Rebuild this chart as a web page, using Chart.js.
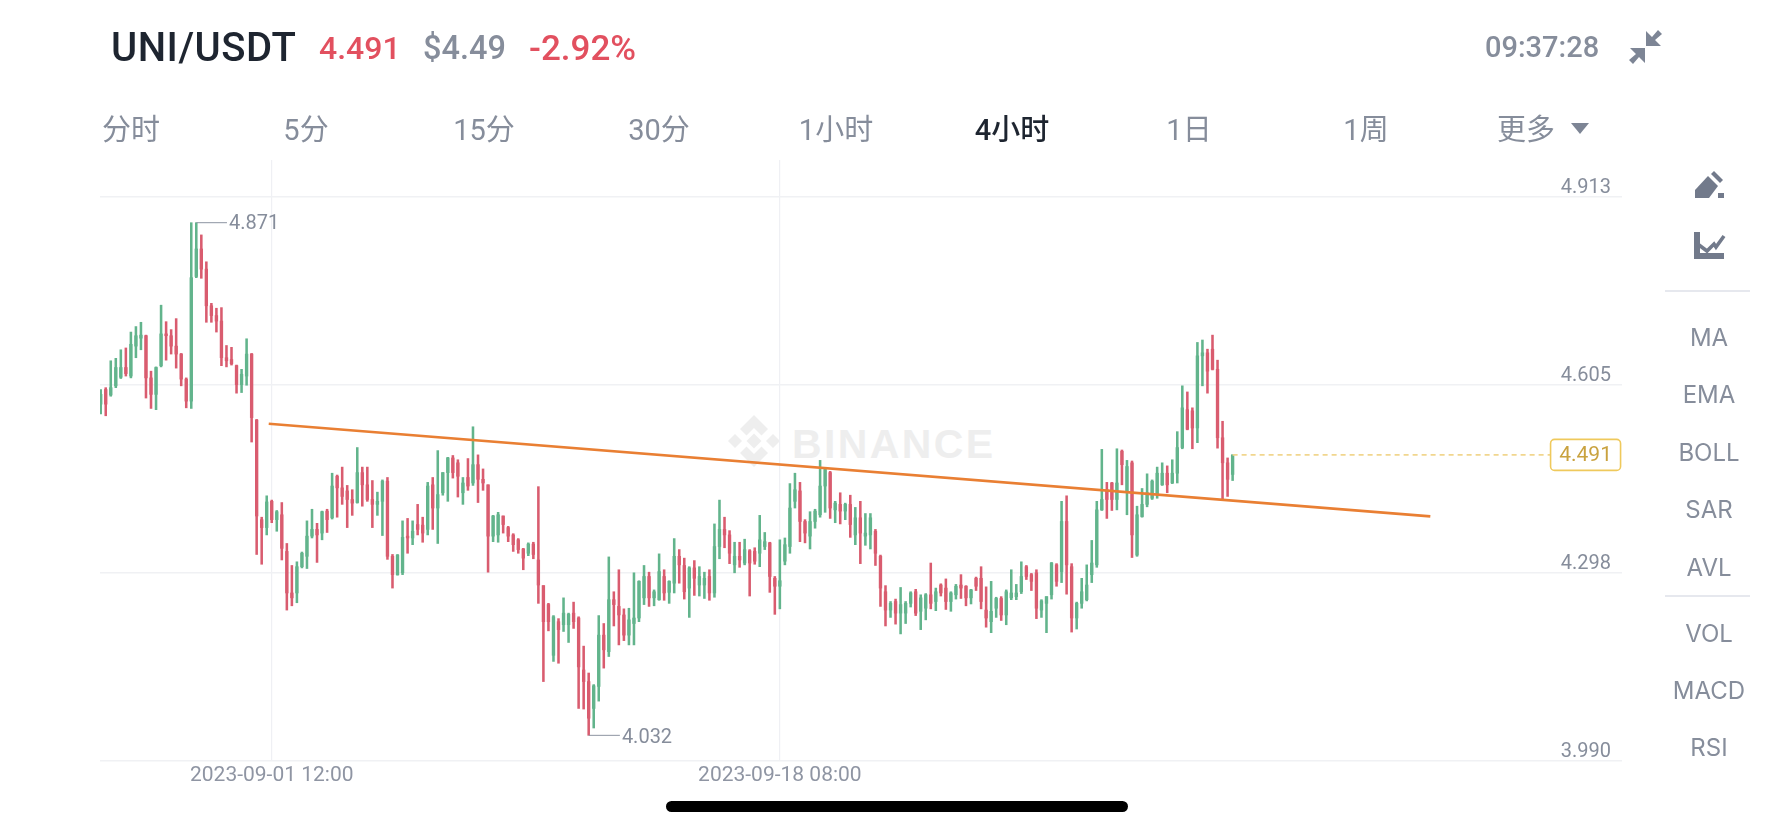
<!DOCTYPE html>
<html>
<head>
<meta charset="utf-8">
<title>UNI/USDT</title>
<script src="https://cdn.jsdelivr.net/npm/chart.js@4"></script>
<style>
html, body { margin: 0; padding: 0; background: #fff; width: 1792px; height: 828px; overflow: hidden; }
body { position: relative; font-family: Roboto, "Noto Sans CJK SC", sans-serif; }
canvas { position: absolute; left: 0; top: 0; }
.t { position: absolute; white-space: nowrap; line-height: 1; }
.tab { font-size: 29px; color: #868d9b; transform: translateX(-50%); top: 116px; font-family: Roboto, "Noto Sans CJK SC", sans-serif; }
.side { font-family: Inter, sans-serif; font-size: 24px; color: #868d9b; left: 1709px; transform: translate(-50%, -50%); }
.sep { position: absolute; left: 1665px; width: 85px; height: 1.5px; background: #e6e8ee; }
#mark { position: absolute; left: 728px; top: 415px; }
#markText { left: 792px; top: 421px; font: 700 41px "Liberation Sans", sans-serif; letter-spacing: 2.4px; color: #eeeeee; }
#pill { position: absolute; left: 666px; top: 801px; width: 462px; height: 11px; border-radius: 6px; background: #000; }
</style>
</head>
<body>
<svg id="mark" width="52" height="52" viewBox="0 0 52 52" fill="#eeeeee">
  <polygon points="26,0 40,14 33.5,20.5 26,13 18.5,20.5 12,14"/>
  <polygon points="26,52 12,38 18.5,31.5 26,39 33.5,31.5 40,38"/>
  <polygon points="26,18.5 33.5,26 26,33.5 18.5,26"/>
  <polygon points="7,19 14,26 7,33 0,26"/>
  <polygon points="45,19 52,26 45,33 38,26"/>
</svg>
<div id="markText" class="t">BINANCE</div>
<canvas id="chart" width="1792" height="828"></canvas>

<div class="t" style="left:111px;top:28px;font-size:40px;font-weight:500;letter-spacing:0.5px;color:#1e2530;">UNI/USDT</div>
<div class="t" style="left:319px;top:32px;font-size:32px;font-weight:500;color:#e2505f;">4.491</div>
<div class="t" style="left:423px;top:32px;font-size:32.5px;font-weight:500;color:#868d9b;">$4.49</div>
<div class="t" style="left:529px;top:31px;font-size:35px;font-weight:500;color:#e2505f;">-2.92%</div>
<div class="t" style="left:1485px;top:33px;font-size:29px;font-weight:500;color:#868d9b;">09:37:28</div>
<svg style="position:absolute;left:1628px;top:29px" width="36" height="36" viewBox="0 0 36 36" fill="#7d8595">
  <polygon points="18,2 18,17 33,17 27,11 34,5 30,1 24,8"/>
  <polygon points="17,34 17,19 2,19 8,25 1,31 5,35 11,28"/>
</svg>

<div class="t tab" style="left:131px">分时</div>
<div class="t tab" style="left:306px">5分</div>
<div class="t tab" style="left:484px">15分</div>
<div class="t tab" style="left:659px">30分</div>
<div class="t tab" style="left:836px">1小时</div>
<div class="t tab" style="left:1012px;color:#1e2530;font-weight:500">4小时</div>
<div class="t tab" style="left:1189px">1日</div>
<div class="t tab" style="left:1366px">1周</div>
<div class="t tab" style="left:1526px">更多</div>
<svg style="position:absolute;left:1571px;top:123px" width="18" height="12" viewBox="0 0 18 12" fill="#7d8595"><polygon points="0,0 18,0 9,11"/></svg>

<svg style="position:absolute;left:1694px;top:170px" width="36" height="30" viewBox="0 0 36 30" fill="#727a8b">
  <polygon points="1,28 1,20 14,6 24,16 15,28"/>
  <polygon points="17,4 20,1 29,10 26,13"/>
  <rect x="24" y="23" width="6" height="5"/>
</svg>
<svg style="position:absolute;left:1694px;top:231px" width="36" height="30" viewBox="0 0 36 30" fill="none" stroke="#727a8b">
  <path d="M3,1 V25 H30" stroke-width="6"/>
  <path d="M5,14 L13,20 L20,13 L22,16 L30,5" stroke-width="3.6"/>
</svg>

<div class="t side" style="top:338px">MA</div>
<div class="t side" style="top:395px">EMA</div>
<div class="t side" style="top:453px">BOLL</div>
<div class="t side" style="top:510px">SAR</div>
<div class="t side" style="top:568px">AVL</div>
<div class="t side" style="top:634px">VOL</div>
<div class="t side" style="top:691px">MACD</div>
<div class="t side" style="top:748px">RSI</div>
<div class="sep" style="top:290px"></div>
<div class="sep" style="top:595px"></div>
<div id="pill"></div>

<script>
// 4h candles
const opens = [4.574,4.598,4.589,4.604,4.618,4.634,4.620,4.669,4.682,4.686,
4.617,4.590,4.637,4.689,4.686,4.669,4.656,4.615,4.579,4.783,
4.828,4.795,4.735,4.719,4.710,4.650,4.647,4.637,4.606,4.620,
4.656,4.548,4.385,4.372,4.415,4.385,4.393,4.333,4.265,4.265,
4.308,4.325,4.358,4.369,4.363,4.399,4.388,4.456,4.437,4.432,
4.418,4.413,4.462,4.442,4.418,4.410,4.415,4.448,4.325,4.295,
4.298,4.358,4.355,4.377,4.376,4.369,4.442,4.404,4.429,4.462,
4.486,4.478,4.429,4.454,4.445,4.475,4.451,4.442,4.358,4.360,
4.391,4.372,4.360,4.352,4.337,4.330,4.345,4.319,4.277,4.246,
4.163,4.218,4.213,4.213,4.232,4.224,4.139,4.120,4.076,4.112,
4.196,4.169,4.254,4.243,4.229,4.196,4.215,4.224,4.257,4.292,
4.257,4.254,4.292,4.266,4.281,4.325,4.310,4.273,4.306,4.278,
4.278,4.292,4.265,4.341,4.369,4.360,4.311,4.325,4.314,4.334,
4.333,4.330,4.341,4.347,4.289,4.276,4.317,4.341,4.415,4.432,
4.382,4.358,4.382,4.393,4.440,4.462,4.401,4.410,4.399,4.410,
4.360,4.388,4.358,4.360,4.366,4.325,4.267,4.237,4.251,4.232,
4.232,4.248,4.267,4.235,4.240,4.262,4.251,4.278,4.273,4.251,
4.262,4.278,4.276,4.257,4.289,4.289,4.237,4.218,4.240,4.256,
4.229,4.257,4.259,4.267,4.308,4.295,4.298,4.237,4.248,4.262,
4.311,4.300,4.382,4.308,4.224,4.248,4.254,4.295,4.311,4.401,
4.434,4.445,4.418,4.497,4.431,4.478,4.327,4.390,4.410,4.420,
4.426,4.442,4.461,4.445,4.461,4.503,4.565,4.563,4.535,4.653,
4.658,4.664,4.631,4.519,4.478,4.459];
const highs = [4.598,4.601,4.645,4.649,4.663,4.666,4.692,4.701,4.708,4.687,
4.628,4.635,4.736,4.709,4.696,4.714,4.657,4.617,4.871,4.871,
4.851,4.807,4.739,4.731,4.732,4.670,4.667,4.638,4.631,4.681,
4.657,4.549,4.389,4.424,4.417,4.400,4.413,4.346,4.310,4.316,
4.332,4.383,4.402,4.379,4.399,4.402,4.461,4.458,4.471,4.441,
4.434,4.503,4.471,4.471,4.449,4.430,4.450,4.454,4.328,4.328,
4.383,4.387,4.383,4.410,4.389,4.446,4.454,4.498,4.462,4.487,
4.490,4.483,4.454,4.485,4.537,4.491,4.468,4.442,4.392,4.397,
4.391,4.374,4.362,4.354,4.338,4.347,4.348,4.439,4.277,4.248,
4.228,4.223,4.257,4.232,4.250,4.226,4.178,4.134,4.115,4.228,
4.215,4.324,4.267,4.303,4.239,4.240,4.298,4.285,4.310,4.299,
4.270,4.329,4.303,4.285,4.354,4.336,4.322,4.308,4.318,4.308,
4.299,4.303,4.378,4.417,4.389,4.367,4.348,4.348,4.353,4.336,
4.339,4.392,4.364,4.348,4.292,4.352,4.355,4.444,4.461,4.446,
4.385,4.398,4.402,4.482,4.468,4.464,4.415,4.429,4.412,4.425,
4.405,4.415,4.395,4.395,4.369,4.327,4.277,4.251,4.255,4.274,
4.251,4.267,4.271,4.262,4.264,4.314,4.273,4.280,4.288,4.267,
4.279,4.295,4.277,4.271,4.291,4.308,4.275,4.284,4.258,4.259,
4.270,4.303,4.279,4.316,4.310,4.297,4.303,4.254,4.259,4.315,
4.313,4.415,4.424,4.313,4.250,4.289,4.311,4.351,4.415,4.500,
4.446,4.446,4.501,4.499,4.482,4.481,4.407,4.436,4.460,4.450,
4.471,4.478,4.473,4.483,4.529,4.604,4.594,4.568,4.675,4.679,
4.664,4.687,4.646,4.546,4.486,4.491];
const lows = [4.558,4.555,4.587,4.601,4.616,4.620,4.617,4.650,4.663,4.584,
4.567,4.565,4.635,4.646,4.656,4.633,4.604,4.568,4.567,4.781,
4.780,4.708,4.708,4.692,4.637,4.635,4.638,4.592,4.593,4.605,
4.512,4.328,4.312,4.360,4.380,4.366,4.319,4.237,4.244,4.249,
4.306,4.305,4.355,4.315,4.352,4.364,4.386,4.389,4.410,4.372,
4.392,4.412,4.407,4.415,4.372,4.392,4.359,4.320,4.273,4.294,
4.295,4.330,4.344,4.360,4.348,4.360,4.369,4.346,4.425,4.415,
4.453,4.422,4.410,4.433,4.441,4.413,4.433,4.299,4.349,4.348,
4.363,4.349,4.333,4.330,4.303,4.326,4.321,4.248,4.120,4.203,
4.153,4.150,4.202,4.184,4.207,4.076,4.075,4.032,4.044,4.088,
4.142,4.161,4.211,4.180,4.187,4.180,4.180,4.218,4.246,4.243,
4.244,4.253,4.253,4.248,4.265,4.281,4.255,4.225,4.261,4.260,
4.256,4.253,4.258,4.321,4.339,4.313,4.298,4.307,4.311,4.260,
4.312,4.308,4.336,4.266,4.230,4.239,4.311,4.330,4.404,4.349,
4.347,4.337,4.371,4.389,4.397,4.387,4.380,4.378,4.385,4.356,
4.344,4.313,4.343,4.337,4.310,4.243,4.211,4.225,4.214,4.198,
4.215,4.242,4.228,4.205,4.221,4.239,4.236,4.260,4.238,4.235,
4.255,4.256,4.244,4.247,4.269,4.239,4.209,4.200,4.225,4.220,
4.213,4.254,4.254,4.264,4.287,4.269,4.223,4.225,4.200,4.255,
4.276,4.282,4.263,4.201,4.206,4.240,4.252,4.282,4.307,4.400,
4.387,4.400,4.401,4.442,4.393,4.323,4.325,4.389,4.406,4.418,
4.420,4.441,4.429,4.444,4.445,4.501,4.532,4.501,4.511,4.604,
4.592,4.630,4.502,4.417,4.423,4.449];
const closes = [4.590,4.574,4.601,4.634,4.634,4.624,4.672,4.686,4.687,4.617,
4.590,4.634,4.689,4.686,4.669,4.656,4.615,4.579,4.781,4.828,
4.795,4.735,4.719,4.710,4.650,4.645,4.640,4.606,4.623,4.656,
4.552,4.391,4.372,4.414,4.385,4.398,4.338,4.265,4.257,4.308,
4.330,4.358,4.369,4.360,4.398,4.385,4.440,4.437,4.423,4.418,
4.412,4.462,4.442,4.418,4.410,4.415,4.448,4.325,4.295,4.327,
4.356,4.355,4.366,4.369,4.363,4.440,4.404,4.426,4.462,4.486,
4.462,4.456,4.445,4.440,4.475,4.451,4.445,4.358,4.391,4.393,
4.377,4.358,4.344,4.336,4.322,4.345,4.328,4.278,4.218,4.218,
4.226,4.205,4.232,4.230,4.218,4.144,4.120,4.060,4.113,4.196,
4.172,4.254,4.246,4.229,4.196,4.221,4.224,4.284,4.292,4.257,
4.267,4.300,4.265,4.284,4.325,4.311,4.267,4.306,4.289,4.292,
4.289,4.265,4.341,4.369,4.360,4.330,4.325,4.319,4.336,4.314,
4.317,4.352,4.349,4.292,4.276,4.285,4.344,4.404,4.434,4.382,
4.363,4.382,4.399,4.440,4.467,4.404,4.412,4.399,4.410,4.377,
4.388,4.363,4.363,4.388,4.330,4.273,4.237,4.248,4.232,4.246,
4.248,4.265,4.232,4.257,4.262,4.248,4.267,4.265,4.251,4.265,
4.276,4.273,4.257,4.270,4.276,4.251,4.224,4.235,4.256,4.229,
4.267,4.265,4.265,4.292,4.292,4.284,4.240,4.252,4.259,4.314,
4.284,4.382,4.311,4.224,4.248,4.267,4.278,4.314,4.401,4.418,
4.418,4.418,4.445,4.475,4.472,4.360,4.393,4.410,4.429,4.448,
4.461,4.461,4.442,4.461,4.503,4.568,4.533,4.535,4.653,4.658,
4.628,4.631,4.519,4.478,4.451,4.491];

const priceTicks = [3.990, 4.298, 4.605, 4.913];
const timeTicks = [34, 135];
const timeLabels = ['2023-09-01 12:00', '2023-09-18 08:00'];

// drawn trend line and the last price guide
const trendX = [33.4, 264.3];
const trendY = [4.542, 4.3904];
const lastPrice = 4.491;
const lastIndex = 225;
const lastGuideEnd = 288.2;
const highPrice = 4.871;
const highIndex = 19;
const highLabelIndex = 25.1;
const lowPrice = 4.032;
const lowIndex = 97;
const lowLabelIndex = 103.2;

const green = '#62b48c';
const red = '#d95c6f';
const colors = closes.map((c, i) => c >= opens[i] ? green : red);

const overlayText = {
    id: 'overlayText',
    afterDatasetsDraw(chart) {
        const ctx = chart.ctx;
        const x = chart.scales.x;
        const y = chart.scales.y;
        ctx.save();
        ctx.font = '20px Roboto';
        ctx.fillStyle = '#868d9b';
        ctx.textBaseline = 'middle';
        ctx.textAlign = 'left';
        ctx.fillText(highPrice.toFixed(3), x.getPixelForValue(highLabelIndex) + 2, y.getPixelForValue(highPrice) + 1);
        ctx.fillText(lowPrice.toFixed(3), x.getPixelForValue(lowLabelIndex) + 2, y.getPixelForValue(lowPrice) + 3);

        // price box at the right of the guide
        const boxY = y.getPixelForValue(lastPrice);
        const boxX = x.getPixelForValue(lastGuideEnd);
        ctx.beginPath();
        ctx.roundRect(boxX, boxY - 15.5, 70, 31, 4);
        ctx.fillStyle = '#fff';
        ctx.fill();
        ctx.strokeStyle = '#efc95c';
        ctx.lineWidth = 1.6;
        ctx.stroke();
        ctx.font = '21px Roboto';
        ctx.fillStyle = '#c9a23f';
        ctx.textAlign = 'center';
        ctx.fillText(lastPrice.toFixed(3), boxX + 35, boxY + 1);
        ctx.restore();
    }
};

new Chart(document.getElementById('chart'), {
    type: 'bar',
    data: {
        datasets: [
            {
                label: 'Wick',
                data: highs.map((h, i) => ({ x: i, y: [lows[i], h] })),
                backgroundColor: colors,
                barThickness: 1.9,
                grouped: false,
                order: 3
            },
            {
                label: 'Body',
                data: opens.map((o, i) => ({ x: i, y: [o, closes[i]] })),
                backgroundColor: colors,
                barThickness: 2.7,
                grouped: false,
                order: 2
            },
            {
                type: 'line',
                label: 'Trend',
                data: trendX.map((x, i) => ({ x: x, y: trendY[i] })),
                borderColor: '#e97f33',
                borderWidth: 2.6,
                pointRadius: 0,
                order: 0
            },
            {
                type: 'line',
                label: 'Last',
                data: [{ x: lastIndex, y: lastPrice }, { x: lastGuideEnd, y: lastPrice }],
                borderColor: '#f1d68e',
                borderWidth: 1.6,
                borderDash: [5, 4],
                pointRadius: 0,
                order: 1
            },
            {
                type: 'line',
                label: 'High',
                data: [{ x: highIndex, y: highPrice }, { x: highLabelIndex, y: highPrice }],
                borderColor: '#8d94a2',
                borderWidth: 1,
                pointRadius: 0,
                order: 1
            },
            {
                type: 'line',
                label: 'Low',
                data: [{ x: lowIndex, y: lowPrice }, { x: lowLabelIndex, y: lowPrice }],
                borderColor: '#8d94a2',
                borderWidth: 1,
                pointRadius: 0,
                order: 1
            }
        ]
    },
    plugins: [overlayText],
    options: {
        responsive: false,
        animation: false,
        events: [],
        layout: { padding: { left: 100, top: 160, right: 170, bottom: 27 } },
        plugins: { legend: { display: false }, tooltip: { enabled: false } },
        scales: {
            x: {
                type: 'linear',
                offset: false,
                min: -0.14,
                max: 302.4,
                border: { display: false },
                grid: { offset: false, color: '#eff0f4', lineWidth: 1.2, drawTicks: false },
                afterFit: scale => { scale.height = 40; },
                afterBuildTicks: scale => { scale.ticks = timeTicks.map(v => ({ value: v })); },
                ticks: {
                    autoSkip: false,
                    maxRotation: 0,
                    padding: 2,
                    color: '#8f95a3',
                    font: { family: 'Roboto', size: 21 },
                    callback: (v, i) => timeLabels[i]
                }
            },
            y: {
                position: 'right',
                min: 3.990,
                max: 4.9736,
                border: { display: false },
                grid: { color: '#f0f1f4', lineWidth: 1.5, drawTicks: false },
                afterFit: scale => { scale.width = 0; },
                afterBuildTicks: scale => { scale.ticks = priceTicks.map(v => ({ value: v })); },
                ticks: {
                    mirror: true,
                    padding: -11,
                    labelOffset: -9,
                    color: '#868d9b',
                    font: { family: 'Roboto', size: 20 },
                    callback: v => v.toFixed(3)
                }
            }
        }
    }
});
</script>
</body>
</html>
